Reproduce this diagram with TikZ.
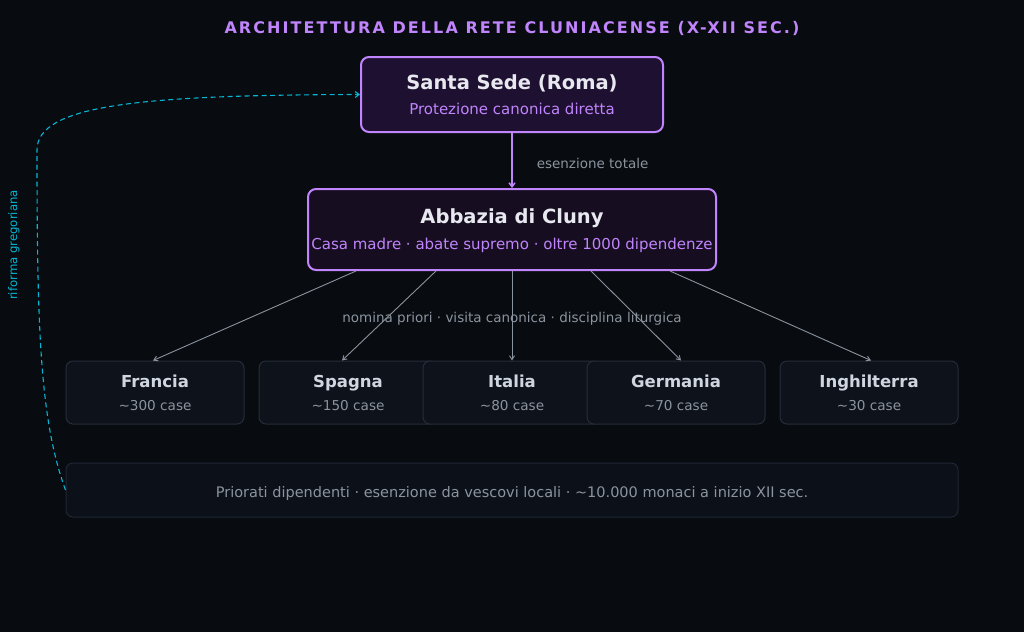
\documentclass[tikz,border=0pt]{standalone}
\usepackage{fontspec}
\setmainfont{DejaVu Sans}
\usetikzlibrary{arrows.meta,calc}
\definecolor{bgdark}{HTML}{080B10}
\definecolor{violetline}{HTML}{C084FC}
\definecolor{sedefill}{HTML}{1E1030}
\definecolor{clunyfill}{HTML}{160E20}
\definecolor{paletext}{HTML}{E8E8F0}
\definecolor{greytext}{HTML}{8B949E}
\definecolor{regionfill}{HTML}{0E121A}
\definecolor{regionline}{HTML}{252D3A}
\definecolor{regiontext}{HTML}{D0D6E0}
\definecolor{notefill}{HTML}{0B1019}
\definecolor{noteline}{HTML}{1F2733}
\definecolor{reformcyan}{HTML}{06B6D4}
\newcommand\circa{{\char"7E}}
\begin{document}
\begin{tikzpicture}[x=1pt,y=-1pt,
  headbox/.style={draw=violetline,line width=2pt,rounded corners=8pt,inner sep=0pt},
  regionbox/.style={draw=regionline,line width=1pt,fill=regionfill,rounded corners=7pt,
    minimum width=178pt,minimum height=63pt,inner sep=0pt},
  boxtitle/.style={inner sep=0pt,anchor=base,text=paletext,font=\fontsize{19.5}{22}\selectfont\bfseries},
  boxsub/.style={inner sep=0pt,anchor=base,text=violetline,font=\fontsize{15}{17}\selectfont},
  regtitle/.style={inner sep=0pt,anchor=base,text=regiontext,font=\fontsize{16.5}{18}\selectfont\bfseries},
  regsub/.style={inner sep=0pt,anchor=base,text=greytext,font=\fontsize{13.6}{16}\selectfont},
  linklabel/.style={inner sep=0pt,text=greytext,font=\fontsize{13.5}{15}\selectfont},
  branch/.style={draw=greytext,line width=0.9pt,-{Straight Barb[length=4pt,width=5pt]}},
  ]
\fill[bgdark] (0,0) rectangle (1024,632);
\useasboundingbox (0,0) rectangle (1024,632);
% titolo
\node[inner sep=0pt,anchor=base,text=violetline,font=\fontsize{16}{18}\selectfont\bfseries\addfontfeature{LetterSpace=13}] (title) at (512,33) {ARCHITETTURA DELLA RETE CLUNIACENSE (X-XII SEC.)};
% vertice
\node[headbox,fill=sedefill,minimum width=302pt,minimum height=75pt] (sede) at (512,94.5) {};
\node[boxtitle] (sedeT) at (512,89) {Santa Sede (Roma)};
\node[boxsub] (sedeS) at (512,114.5) {Protezione canonica diretta};
\node[headbox,fill=clunyfill,minimum width=408pt,minimum height=81pt] (cluny) at (512,229.5) {};
\node[boxtitle] (clunyT) at (512,223) {Abbazia di Cluny};
\node[boxsub] (clunyS) at (512,249.5) {Casa madre · abate supremo · oltre 1000 dipendenze};
\draw[draw=violetline,line width=1.5pt,-{Straight Barb[length=4pt,width=6pt]}] (sede) -- (cluny)
  node[linklabel,pos=0.55,anchor=west,xshift=24pt] (esLbl) {esenzione totale};
% province
\node[regionbox] (francia) at (155,392.5) {};
\node[regtitle] (franciaT) at (155,387) {Francia};
\node[regsub] (franciaS) at (155,410) {\circa300 case};
\node[regionbox] (spagna) at (348,392.5) {};
\node[regtitle] (spagnaT) at (348,387) {Spagna};
\node[regsub] (spagnaS) at (348,410) {\circa150 case};
\node[regionbox] (italia) at (512,392.5) {};
\node[regtitle] (italiaT) at (512,387) {Italia};
\node[regsub] (italiaS) at (512,410) {\circa80 case};
\node[regionbox] (germania) at (676,392.5) {};
\node[regtitle] (germaniaT) at (676,387) {Germania};
\node[regsub] (germaniaS) at (676,410) {\circa70 case};
\node[regionbox] (inghilterra) at (869,392.5) {};
\node[regtitle] (inghilterraT) at (869,387) {Inghilterra};
\node[regsub] (inghilterraS) at (869,410) {\circa30 case};
\draw[branch] ([xshift=-156pt]cluny.south) -- ([xshift=-2pt]francia.north);
\draw[branch] ([xshift=-76pt]cluny.south) -- ([xshift=-6pt]spagna.north);
\draw[branch] (cluny.south) -- (italia.north)
  node[linklabel,pos=0.52,anchor=base,yshift=-5pt] (nominaLbl) {nomina priori · visita canonica · disciplina liturgica};
\draw[branch] ([xshift=79pt]cluny.south) -- ([xshift=5pt]germania.north);
\draw[branch] ([xshift=158pt]cluny.south) -- ([xshift=2pt]inghilterra.north);
% nota in basso
\node[draw=noteline,line width=1pt,fill=notefill,rounded corners=7pt,minimum width=892pt,minimum height=54pt,inner sep=0pt] (nota) at (512,490) {};
\node[regsub,font=\fontsize{14.5}{17}\selectfont] (notaT) at (512,497) {Priorati dipendenti · esenzione da vescovi locali · \circa10.000 monaci a inizio XII sec.};
% riforma
\draw[reformcyan,line width=1.1pt,dash pattern=on 5pt off 3.5pt,-{Straight Barb[length=4pt,width=6pt]}]
  (nota.west) .. controls (40,420) and (37,330) .. (37,150)
  .. controls (37,105) and (140,95) .. (sede.west);
\node[inner sep=0pt,text=reformcyan,rotate=90,font=\fontsize{11.7}{13}\selectfont] (riformaLbl) at (14,245) {riforma gregoriana};
\end{tikzpicture}
\end{document}
